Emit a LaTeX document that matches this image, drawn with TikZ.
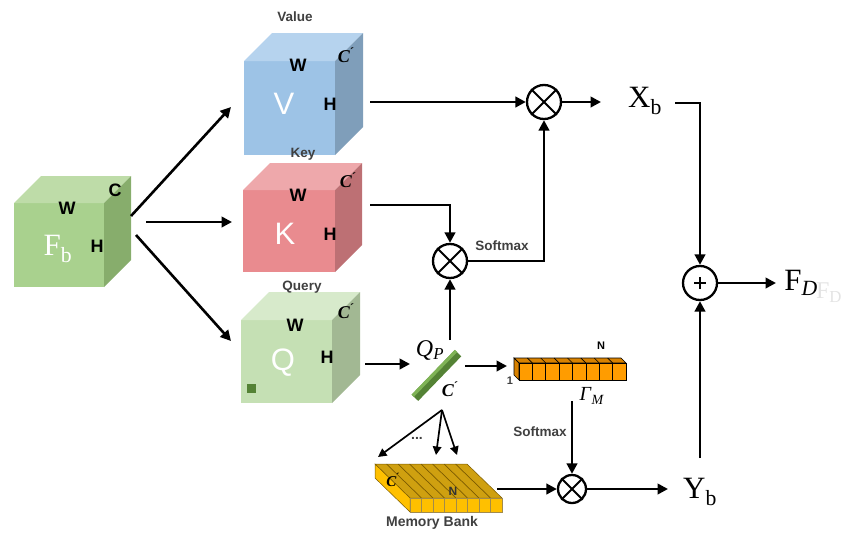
\documentclass[tikz,border=0pt]{standalone}
\usepackage{fontspec}
\setmainfont{Liberation Serif}
\newfontfamily\arialfont{Liberation Sans}
\usetikzlibrary{arrows.meta,calc}

% face colours of the feature cubes
\definecolor{gfront}{HTML}{A9D18E}\definecolor{gtop}{HTML}{BEDCA8}\definecolor{gside}{HTML}{87AD6C}
\definecolor{vfront}{HTML}{9DC3E6}\definecolor{vtop}{HTML}{B6D3EE}\definecolor{vside}{HTML}{7F9EBA}
\definecolor{kfront}{HTML}{E98B8F}\definecolor{ktop}{HTML}{EEA8AB}\definecolor{kside}{HTML}{BD7074}
\definecolor{qfront}{HTML}{C5E0B4}\definecolor{qtop}{HTML}{D7EACB}\definecolor{qside}{HTML}{A2B893}
\definecolor{darkgreen}{HTML}{548235}\definecolor{lightgreen}{HTML}{7FB356}
\definecolor{orfront}{HTML}{FF9C00}\definecolor{ortop}{HTML}{D98200}
\definecolor{mbfront}{HTML}{FFC000}\definecolor{mbtop}{HTML}{CFA010}\definecolor{mbline}{HTML}{7A5A00}
\definecolor{labelgray}{HTML}{404040}

% channel symbol C with its prime
\newcommand\chan{\textit{C}\textsuperscript{\kern-1pt\textit{´}}}

% top and right faces drawn behind a front-face node: #1 node, #2 depth, #3 top colour, #4 side colour
\newcommand\cubefaces[4]{%
  \fill[#3] (#1.north west) -- ++(#2,-#2) -- ($(#1.north east)+(#2,-#2)$) -- (#1.north east) -- cycle;
  \fill[#4] (#1.north east) -- ++(#2,-#2) -- ($(#1.south east)+(#2,-#2)$) -- (#1.south east) -- cycle;}

\begin{document}
\begin{tikzpicture}[x=1pt,y=-1pt,
  face/.style={anchor=north west,inner sep=0pt,outer sep=0pt},
  dimlab/.style={font=\arialfont\bfseries\fontsize{18}{18}\selectfont},
  chlab/.style={font=\bfseries\fontsize{18}{18}\selectfont},
  biglab/.style={text=white,font=\arialfont\fontsize{31}{31}\selectfont},
  title/.style={text=labelgray,font=\arialfont\bfseries\fontsize{13.5}{13.5}\selectfont},
  feat/.style={font=\fontsize{31}{31}\selectfont},
  arr/.style={line width=2.6pt,line join=miter,-{Triangle[length=10.5pt,width=10.5pt]}},
  thinarr/.style={line width=1.7pt,-{Triangle[length=8.5pt,width=8.5pt]}},
  op/.style={circle,draw,line width=2.3pt,minimum size=34pt,inner sep=0pt,fill=white},
  cross/.style={line width=2.1pt}]
\useasboundingbox (0,0) rectangle (841,536);

% ---------- input cube F_b ----------
\node[face,fill=gfront,minimum width=90pt,minimum height=84pt] (F) at (14,203) {};
\cubefaces{F}{27}{gtop}{gside}
\node[dimlab] at (67,208) {W};
\node[dimlab] at (115,190) {C};
\node[dimlab] at (97,246) {H};
\node[feat,text=white] at (58,249) {F\textsubscript{b}};

% ---------- value cube ----------
\node[face,fill=vfront,minimum width=91pt,minimum height=94pt] (V) at (244,61) {};
\cubefaces{V}{28}{vtop}{vside}
\node[title] at (295,17) {Value};
\node[dimlab] at (298,65) {W};
\node[chlab] at (346,55) {\chan};
\node[dimlab] at (330,104) {H};
\node[biglab] at (284,104) {V};

% ---------- key cube ----------
\node[face,fill=kfront,minimum width=92pt,minimum height=82pt] (K) at (243,190) {};
\cubefaces{K}{27}{ktop}{kside}
\node[title] at (303,154) {Key};
\node[dimlab] at (298,195) {W};
\node[chlab] at (348,180) {\chan};
\node[dimlab] at (330,234) {H};
\node[biglab] at (285,234) {K};

% ---------- query cube ----------
\node[face,fill=qfront,minimum width=91pt,minimum height=83pt] (Q) at (241,320) {};
\cubefaces{Q}{28}{qtop}{qside}
\node[title] at (302,287) {Query};
\node[dimlab] at (295,325) {W};
\node[chlab] at (346,311) {\chan};
\node[dimlab] at (327,357) {H};
\node[biglab] at (283,363) {Q};
\fill[darkgreen] (247,384) rectangle (256,393);

% ---------- query prototype bar ----------
\node[rotate=46,minimum width=62pt,minimum height=9pt,inner sep=0pt,fill=darkgreen] (bar) at (436.5,375.5) {};
\fill[lightgreen] (bar.north west) -- (bar.north east)
  -- ($(bar.north east)!0.35!(bar.south east)$) -- ($(bar.north west)!0.35!(bar.south west)$) -- cycle;
\node[font=\fontsize{24}{24}\selectfont] at (430,350) {\textit{Q}\textsubscript{\textit{P}}};
\node[chlab] at (450,389) {\chan};

% ---------- similarity row 1 x N ----------
\node[face,minimum width=107pt,minimum height=17pt] (row) at (519,363) {};
\filldraw[fill=ortop,draw=black,line width=0.6pt] (514,358) -- (621,358) -- (626,363) -- (519,363) -- cycle;
\filldraw[fill=ortop,draw=black,line width=0.6pt] (514,358) -- (519,363) -- (519,380) -- (514,375) -- cycle;
\foreach \i in {0,...,7}{
  \filldraw[fill=orfront,draw=black,line width=0.6pt] (519+13.375*\i,363) rectangle ++(13.375,17);
  \draw[line width=0.6pt] (519+13.375*\i,363) -- ++(-5,-5);}
\node[font=\arialfont\bfseries\fontsize{11}{11}\selectfont] at (601,346) {N};
\node[font=\arialfont\bfseries\fontsize{11}{11}\selectfont,text=labelgray] at (510,381) {1};
\node[font=\fontsize{20}{20}\selectfont] at (592,396) {\textit{Γ}\textsubscript{\textit{M}}};

% ---------- memory bank ----------
\node[face,minimum width=92pt,minimum height=14pt] (mb) at (410,498) {};
\filldraw[fill=mbtop,draw=mbline,line width=0.5pt] (375,464) -- (467,464) -- (502,498) -- (410,498) -- cycle;
\filldraw[fill=mbfront,draw=mbline,line width=0.5pt] (375,464) -- (410,498) -- (410,512) -- (375,478) -- cycle;
\foreach \i in {1,...,7}
  \draw[mbline,line width=0.7pt] (375+11.5*\i,464) -- (410+11.5*\i,498);
\foreach \i in {0,...,7}
  \filldraw[fill=mbfront,draw=mbline!70,line width=0.5pt] (410+11.5*\i,498) rectangle ++(11.5,14);
\node[font=\bfseries\fontsize{15}{15}\selectfont] at (393,480) {\chan};
\node[font=\arialfont\bfseries\fontsize{12}{12}\selectfont,text=labelgray!80!black] at (453,491) {N};
\node[title,font=\arialfont\bfseries\fontsize{14}{14}\selectfont] at (432,523) {Memory Bank};

% ---------- operators ----------
\node[op] (m1) at (544,102) {};
\node[op] (m2) at (450,261) {};
\node[op,minimum size=28pt] (m3) at (572,489) {};
\node[op] (P) at (700,283) {};
\foreach \m in {m1,m2,m3}
  \draw[cross] (\m.north west) -- (\m.south east) (\m.north east) -- (\m.south west);
\draw[line width=2.1pt] ($(P.center)+(-6,0)$) -- ($(P.center)+(6,0)$)
                        ($(P.center)+(0,-6)$) -- ($(P.center)+(0,6)$);

% ---------- outputs ----------
\node[feat] (X) at (645,101) {X\textsubscript{b}};
\node[feat] (Y) at (700,492) {Y\textsubscript{b}};
\node[feat] (FD) at (801,283) {F\textsubscript{\itshape D}};
\node[feat,text=gray!22,font=\fontsize{24}{24}\selectfont] at (829,293) {F\textsubscript{D}};

% ---------- connector end points ----------
\coordinate (fa) at (131,216); \coordinate (fv) at (231,107);
\coordinate (fb) at (146,222); \coordinate (fk) at (232,222);
\coordinate (fc) at (136,235); \coordinate (fq) at (231,341);
\coordinate (vout) at (370,102);
\coordinate (kout) at (370,205);
\coordinate (qout) at (365,364); \coordinate (barin) at (410,364);
\coordinate (barup) at (450,340);
\coordinate (barright) at (465,366); \coordinate (rowin) at (507,366);
\coordinate (rowdown) at (572,401);
\coordinate (mbout) at (497,489);
\coordinate (yin) at (668,489);
\coordinate (xin) at (601,102);
\coordinate (xout) at (675,103);
\coordinate (yup) at (700,458);
\coordinate (fdin) at (776,283);
\coordinate (fan) at (442,410);
\coordinate (fan1) at (378,457); \coordinate (fan2) at (436,455); \coordinate (fan3) at (457,455);

% ---------- connectors ----------
\draw[arr] (fa) -- (fv);
\draw[arr] (fb) -- (fk);
\draw[arr] (fc) -- (fq);
\draw[arr] (vout) -- (m1.west);
\draw[arr] (m1.east) -- (xin);
\draw[arr] (kout) -| (m2.north);
\draw[arr] (m2.east) -| (m1.south);
\node[title] at (502,246) {Softmax};
\draw[arr] (qout) -- (barin);
\draw[arr] (barup) -- (m2.south);
\draw[arr] (barright) -- (rowin);
\draw[arr] (rowdown) -- (m3.north);
\node[title] at (540,432) {Softmax};
\draw[arr] (mbout) -- (m3.west);
\draw[arr] (m3.east) -- (yin);
\draw[arr] (xout) -| (P.north);
\draw[arr] (yup) -- (P.south);
\draw[arr] (P.east) -- (fdin);
\draw[thinarr] (fan) -- (fan1);
\draw[thinarr] (fan) -- (fan2);
\draw[thinarr] (fan) -- (fan3);
\node[font=\arialfont\bfseries\fontsize{14}{14}\selectfont,text=labelgray] at (417,438) {...};
\end{tikzpicture}
\end{document}
